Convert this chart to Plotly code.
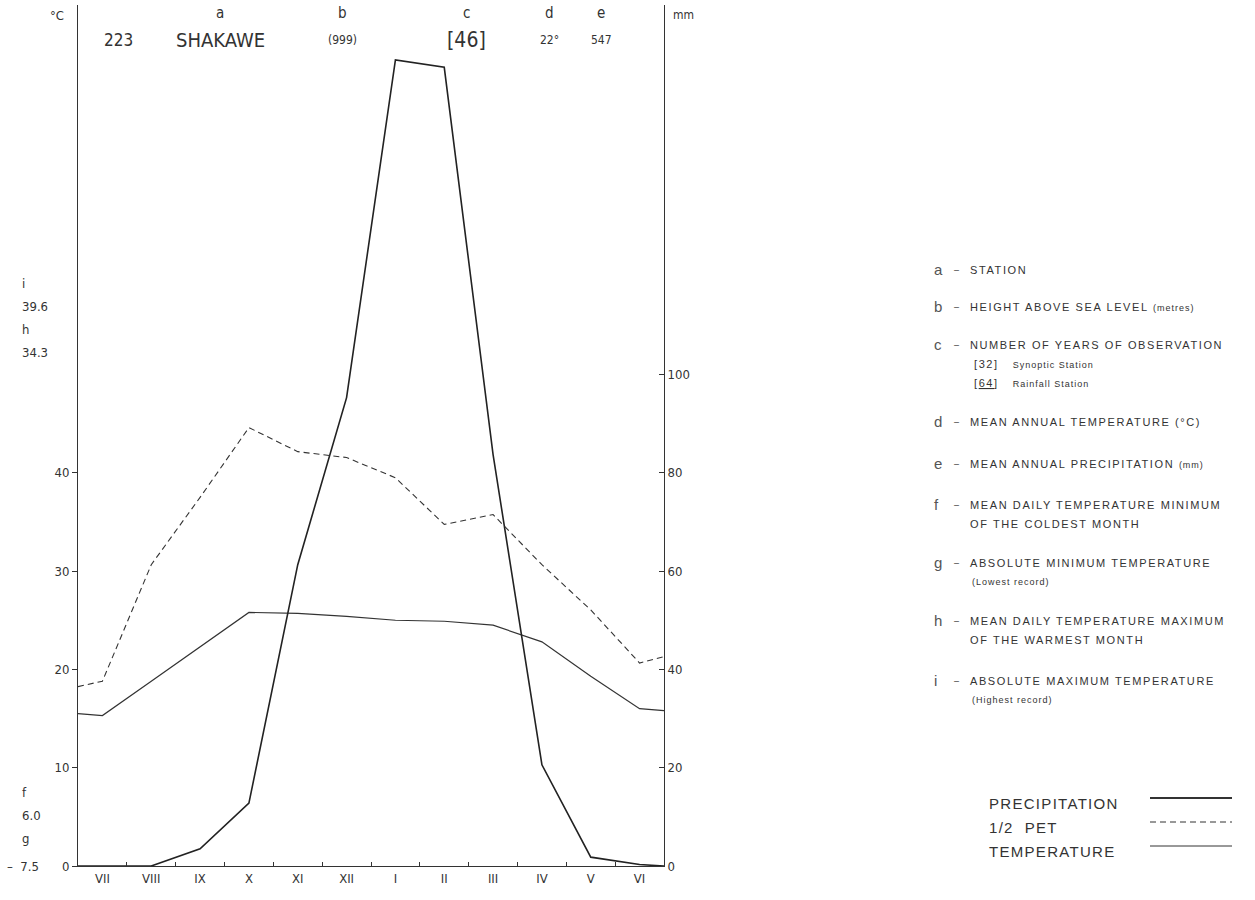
import plotly.graph_objects as go

# ---------------- data ----------------
months = ["VII", "VIII", "IX", "X", "XI", "XII", "I", "II", "III", "IV", "V", "VI"]
precip_mm = [0, 0, 3.5, 12.8, 61.3, 95.3, 164.0, 162.5, 83.7, 20.6, 1.8, 0.3]
precip_edges = [0, 0]          # value at left / right frame
half_pet_mm = [37.6, 61.3, 75.0, 89.2, 84.3, 83.1, 79.0, 69.5, 71.5, 61.3, 52.1, 41.3]
half_pet_edges = [36.5, 42.6]
temp_c = [15.3, 18.8, 22.3, 25.8, 25.7, 25.4, 25.0, 24.9, 24.5, 22.8, 19.3, 16.0]
temp_edges = [15.5, 15.8]

temp_ticks = [0, 10, 20, 30, 40]
mm_ticks = [0, 20, 40, 60, 80, 100]

header_letters = ["a", "b", "c", "d", "e"]
header_values = ["SHAKAWE", "(999)", "[46]", "22°", "547"]
station_no = "223"

left_notes = [("i", "39.6"), ("h", "34.3")]
left_notes_low = [("f", "6.0"), ("g", "–  7.5")]

SUB = "<span style='font-size:9px;letter-spacing:1px'>{}</span>"
key_rows = [
    ("a", ["STATION"]),
    ("b", ["HEIGHT ABOVE SEA LEVEL " + SUB.format("(metres)")]),
    ("c", ["NUMBER OF YEARS OF OBSERVATION",
           "[32]   " + SUB.format("Synoptic Station"),
           "[<u>64</u>]   " + SUB.format("Rainfall Station")]),
    ("d", ["MEAN ANNUAL TEMPERATURE (°C)"]),
    ("e", ["MEAN ANNUAL PRECIPITATION " + SUB.format("(mm)")]),
    ("f", ["MEAN DAILY TEMPERATURE MINIMUM", "OF THE COLDEST MONTH"]),
    ("g", ["ABSOLUTE MINIMUM TEMPERATURE", "(Lowest record)"]),
    ("h", ["MEAN DAILY TEMPERATURE MAXIMUM", "OF THE WARMEST MONTH"]),
    ("i", ["ABSOLUTE MAXIMUM TEMPERATURE", "(Highest record)"]),
]
key_y = [270, 307, 345, 422, 464, 505, 563, 621, 681]

legend_names = ["PRECIPITATION", "1/2  PET", "TEMPERATURE"]

# ---------------- layout geometry ----------------
W, H = 1255, 900
L, R, T, B = 78, 664, 5, 866
INK = "#333333"
FONT = "Liberation Sans Narrow, DejaVu Sans Condensed, Liberation Sans, Arial"
KFONT = "Liberation Sans, Arial"

px_per_c = 9.83
t_top = (B - T) / px_per_c
mm_top = 2 * t_top


def px(x):
    return (x - L) / (R - L)


def py(y):
    return (B - y) / (B - T)


n = len(months)
xs = [-0.5] + list(range(n)) + [n - 0.5]

fig = go.Figure()
fig.add_trace(go.Scatter(x=xs, y=[precip_edges[0]] + precip_mm + [precip_edges[1]],
                         yaxis="y2", mode="lines", line=dict(color="#222222", width=1.6),
                         showlegend=False))
fig.add_trace(go.Scatter(x=xs, y=[half_pet_edges[0]] + half_pet_mm + [half_pet_edges[1]],
                         yaxis="y2", mode="lines",
                         line=dict(color=INK, width=1.1, dash="6px,4px"), showlegend=False))
fig.add_trace(go.Scatter(x=xs, y=[temp_edges[0]] + temp_c + [temp_edges[1]],
                         yaxis="y", mode="lines", line=dict(color=INK, width=1.2),
                         showlegend=False))

ann = []
# header
ann.append(dict(x=px(66), y=py(15), text="°C", showarrow=False, xanchor="right",
                font=dict(size=13, color=INK, family=FONT)))
ann.append(dict(x=px(671), y=py(15), text="mm", showarrow=False, xanchor="left",
                font=dict(size=12, color=INK, family=FONT)))
ann.append(dict(x=px(118), y=py(40), text=station_no, showarrow=False, xanchor="center",
                font=dict(size=17, color=INK, family=FONT)))
hx = [220, 342, 466, 549, 601]
hsize = [20, 12, 21, 12, 12]
for lx, let, val, sz in zip(hx, header_letters, header_values, hsize):
    ann.append(dict(x=px(lx), y=py(13), text=let, showarrow=False, xanchor="center",
                    font=dict(size=15, color=INK, family=FONT)))
    ann.append(dict(x=px(lx), y=py(40), text=val, showarrow=False, xanchor="center",
                    font=dict(size=sz, color=INK, family=FONT)))

# left notes
ly = [283, 306, 329, 352]
items = [s for pair in left_notes for s in pair]
for yy, s in zip(ly, items):
    ann.append(dict(x=px(20), y=py(yy), text=s, showarrow=False, xanchor="left",
                    font=dict(size=13, color=INK, family=FONT)))
ly2 = [792, 815, 838, 866]
items2 = [s for pair in left_notes_low for s in pair]
for yy, s in zip(ly2, items2):
    xx = 5 if s.startswith("–") else 20
    ann.append(dict(x=px(xx), y=py(yy), text=s, showarrow=False, xanchor="left",
                    font=dict(size=13, color=INK, family=FONT)))

# key on the right
for (let, lines), yy in zip(key_rows, key_y):
    ann.append(dict(x=px(932), y=py(yy - 1), text=let, showarrow=False, xanchor="left",
                    font=dict(size=15, color="#555555", family=KFONT)))
    ann.append(dict(x=px(952), y=py(yy), text="–", showarrow=False, xanchor="left",
                    font=dict(size=9, color=INK, family=KFONT)))
    for k, line in enumerate(lines):
        xx = 968 if k == 0 or let != "c" else 972
        small = line.startswith("(")
        ann.append(dict(x=px(xx + (2 if small else 0)), y=py(yy + 19 * k),
                        text="<span style='letter-spacing:%spx'>" % (1 if small else 1.6)
                        + line + "</span>",
                        showarrow=False, xanchor="left",
                        font=dict(size=9 if small else 11, color=INK, family=KFONT)))

# line legend
leg_y = [803, 827, 851]
shapes = []
styles = [dict(width=2.0, dash="solid"), dict(width=1.0, dash="6px,4px"),
          dict(width=1.0, dash="solid")]
for name, yy, st in zip(legend_names, leg_y, styles):
    ann.append(dict(x=px(987), y=py(yy),
                    text="<span style='letter-spacing:1.3px'>" + name + "</span>",
                    showarrow=False, xanchor="left",
                    font=dict(size=15, color=INK, family=KFONT)))
    shapes.append(dict(type="line", xref="paper", yref="paper", x0=px(1150), x1=px(1232),
                       y0=py(yy - 5), y1=py(yy - 5), line=dict(color=INK, **st)))

for a in ann:
    a.setdefault("xref", "paper")
    a.setdefault("yref", "paper")
    a.setdefault("yanchor", "middle")

fig.update_layout(
    width=W, height=H,
    margin=dict(l=L, r=W - R, t=T, b=H - B),
    paper_bgcolor="white", plot_bgcolor="white",
    showlegend=False,
    annotations=ann, shapes=shapes,
    xaxis=dict(range=[-0.5, n - 0.5], tickvals=list(range(n)), ticktext=months,
               showgrid=False, zeroline=False, showline=True, linecolor=INK, linewidth=1,
               ticks="", tickfont=dict(size=13, color=INK, family=FONT),
               minor=dict(tickvals=[i + 0.5 for i in range(n - 1)], ticks="inside",
                          ticklen=4, tickcolor=INK, showgrid=False),
               fixedrange=True),
    yaxis=dict(range=[0, t_top], tickvals=temp_ticks, showgrid=False, zeroline=False,
               showline=True, linecolor=INK, linewidth=1, ticks="outside", ticklen=5,
               tickcolor=INK, tickfont=dict(size=13, color=INK, family=FONT)),
    yaxis2=dict(range=[0, mm_top], tickvals=mm_ticks, overlaying="y", side="right",
                showgrid=False, zeroline=False, showline=True, linecolor=INK, linewidth=1,
                ticks="inside", ticklen=5, tickcolor=INK,
                tickfont=dict(size=13, color=INK, family=FONT)),
)

fig.write_html("out.html")
